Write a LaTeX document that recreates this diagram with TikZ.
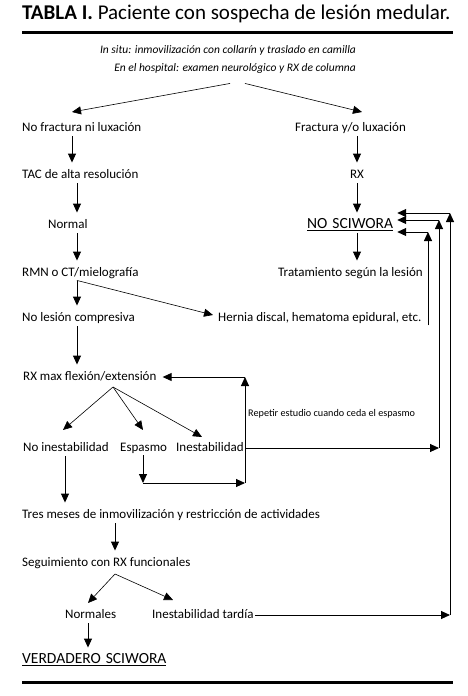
\documentclass[tikz,border=0pt]{standalone}
\usepackage{fontspec}
\setmainfont{Carlito}
\usetikzlibrary{arrows.meta}

\begin{document}
\begin{tikzpicture}[
                x=1pt,
                y=-1pt,
                lbl/.style={inner xsep=1pt, inner ysep=1pt, text height=9.5pt, text depth=3pt, font=\fontsize{13}{15}\selectfont},
                lblw/.style={lbl, anchor=west},
                wide/.style={font=\fontsize{15.5}{17}\selectfont},
                flow/.style={-{Triangle[length=9pt,width=8pt]}, line width=0.9pt},
                gap/.style={shorten <=1pt, shorten >=5pt}
            ]

            \useasboundingbox (0,0) rectangle (467,696);

            \node[lblw, font=\fontsize{21}{24}\selectfont] (title) at (21,16) {\textbf{TABLA I.} Paciente con sospecha de lesión medular.};
            \draw[line width=3pt] (22,32) -- (453,32);
            \draw[line width=3pt] (22,682) -- (453,682);

            \node[lbl, font=\fontsize{11.5}{13}\itshape] (insitu) at (228,50) {In situ: inmovilización con collarín y traslado en camilla};
            \node[lbl, font=\fontsize{11.5}{13}\itshape] (hosp) at (235,68) {En el hospital: examen neurológico y RX de columna};

            \node[lblw] (nofrac) at (21,128) {No fractura ni luxación};
            \node[lblw] (frac) at (294,128) {Fractura y/o luxación};
            \node[lblw] (tac) at (21,175) {TAC de alta resolución};
            \node[lbl] (rx) at (357,175) {RX};
            \node[lblw] (normal) at (47,225) {Normal};
            \node[lblw, wide] (nosci) at (306,225) {\underline{NO\hspace{1.5pt} SCIWORA}};
            \node[lblw] (rmn) at (21,273) {RMN o CT/mielografía};
            \node[lblw] (trat) at (277,273) {Tratamiento según la lesión};
            \node[lblw] (nolesion) at (21,318) {No lesión compresiva};
            \node[lblw] (hernia) at (217,318) {Hernia discal, hematoma epidural, etc.};
            \node[lblw] (rxmax) at (22,377) {RX max flexión/extensión};
            \node[lblw, font=\fontsize{10.2}{12}\selectfont] (repetir) at (247,413) {Repetir estudio cuando ceda el espasmo};
            \node[lblw] (noinest) at (22,448) {No inestabilidad};
            \node[lblw] (espasmo) at (119,448) {Espasmo};
            \node[lblw] (inest) at (175,448) {Inestabilidad};
            \node[lblw] (tres) at (21,515) {Tres meses de inmovilización y restricción de actividades};
            \node[lblw] (segui) at (21,563) {Seguimiento con RX funcionales};
            \node[lblw] (normales) at (64,615) {Normales};
            \node[lblw] (tardia) at (151,615) {Inestabilidad tardía};
            \node[lblw, wide] (verdadero) at (21,660) {\underline{VERDADERO\hspace{1.5pt} SCIWORA}};

            \coordinate (cl) at (72,112);
            \coordinate (cfr) at (362,112);
            \coordinate (cr) at (357,0);
            \coordinate (cm) at (77,0);
            \coordinate (cn) at (65,0);
            \coordinate (ct) at (115,0);
            \coordinate (cv) at (88,0);
            \coordinate (hern) at (213,315);
            \coordinate (hub1) at (113,387);
            \coordinate (hub2) at (115,574);
            \coordinate (s1) at (143,483);
            \coordinate (s2) at (245,483);
            \coordinate (s3) at (245,377);
            \coordinate (r1) at (428,232);
            \coordinate (r2) at (439,220);
            \coordinate (r3) at (450,213);

            \draw[flow, line width=0.6pt] ([xshift=-5pt, yshift=-8pt]hosp.south) -- (cl);
            \draw[flow, line width=0.6pt] ([xshift=10pt, yshift=-8pt]hosp.south) -- (cfr);

            \draw[flow, gap] (nofrac.south -| cl) -- (tac.north -| cl);
            \draw[flow, gap] (frac.south -| cr) -- (rx.north -| cr);
            \draw[flow, gap] (tac.south -| cm) -- (normal.north -| cm);
            \draw[flow, gap] (normal.south -| cm) -- (rmn.north -| cm);
            \draw[flow, gap] (rmn.south -| cm) -- (nolesion.north -| cm);
            \draw[flow, gap] (nolesion.south -| cm) -- (rxmax.north -| cm);
            \draw[flow, gap] (rx.south -| cr) -- (nosci.north -| cr);
            \draw[flow, gap] (nosci.south -| cr) -- (trat.north -| cr);
            \draw[flow, line width=0.6pt] (rmn.south -| cm) -- (hern);

            \draw[flow, line width=0.6pt] (hub1) -- (63,430);
            \draw[flow, line width=0.6pt] (hub1) -- (143,430);
            \draw[flow, line width=0.6pt] (hub1) -- (202,437);

            \draw[flow, gap] (noinest.south -| cn) -- (tres.north -| cn);
            \draw[flow, gap] (tres.south -| ct) -- (segui.north -| ct);
            \draw[flow, line width=0.6pt] (hub2) -- (88,603);
            \draw[flow, line width=0.6pt] (hub2) -- (173,600);
            \draw[flow, gap] (normales.south -| cv) -- (verdadero.north -| cv);

            \draw[flow] (espasmo.south -| s1) -- (s1);
            \draw[flow] (s1) -- (s2);
            \draw[flow] (s2) -- (s3);
            \draw[flow, shorten >=5pt] (s3) -- (s3 -| rxmax.east);

            \draw[flow] (hernia.south east -| r1) -- (r1);
            \draw[flow, shorten >=3pt] (r1) -- (r1 -| nosci.east);
            \draw[flow] (inest.east) -- (inest.east -| r2);
            \draw[flow] (inest.east -| r2) -- (r2);
            \draw[flow, shorten >=3pt] (r2) -- (r2 -| nosci.east);
            \draw[flow] (tardia.east) -- (tardia.east -| r3);
            \draw[flow] (tardia.east -| r3) -- (r3);
            \draw[flow, shorten >=3pt] (r3) -- (r3 -| nosci.east);

            \end{tikzpicture}
\end{document}
